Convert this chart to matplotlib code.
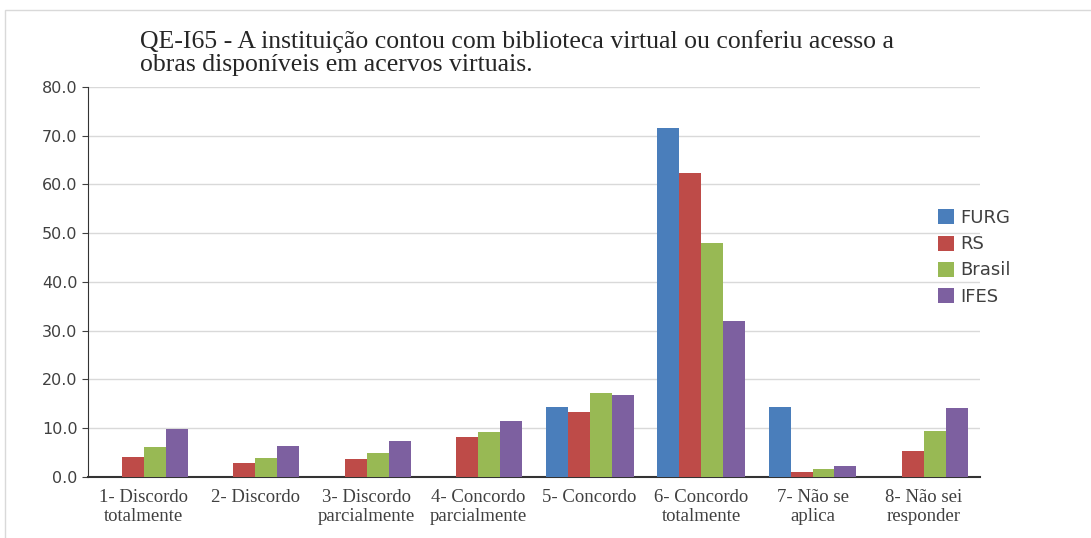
import matplotlib.pyplot as plt
from matplotlib.patches import Rectangle
import numpy as np

categories = ['1- Discordo\ntotalmente', '2- Discordo', '3- Discordo\nparcialmente',
              '4- Concordo\nparcialmente', '5- Concordo', '6- Concordo\ntotalmente',
              '7- Não se\naplica', '8- Não sei\nresponder']
series = ['FURG', 'RS', 'Brasil', 'IFES']
furg = [0.0, 0.0, 0.0, 0.0, 14.4, 71.6, 14.4, 0.0]
rs = [4.0, 2.8, 3.7, 8.3, 13.3, 62.3, 1.0, 5.3]
brasil = [6.2, 3.8, 5.0, 9.3, 17.2, 48.0, 1.6, 9.4]
ifes = [9.9, 6.4, 7.4, 11.5, 16.9, 32.0, 2.3, 14.2]
colors = ['#4A7EBB', '#BE4B48', '#98B954', '#7D60A0']

fig = plt.figure(figsize=(10.91, 5.38), dpi=100)
ax = fig.add_axes([0.0807, 0.1134, 0.8173, 0.725])

# light frame around the chart
fig.patches.append(Rectangle((0.005, -0.1), 1.2, 1.082, transform=fig.transFigure,
                             fill=False, edgecolor='#D9D9D9', linewidth=1.0))

x = np.arange(len(categories))
w = 0.197
for i, (name, vals) in enumerate(zip(series, [furg, rs, brasil, ifes])):
    ax.bar(x + (i - 1.5) * w, vals, width=w, color=colors[i], label=name, zorder=3)

ax.set_xlim(-0.5, len(categories) - 0.5)
ax.set_ylim(0, 80)
ax.set_yticks(np.arange(0, 81, 10))
ax.set_yticklabels(['%.1f' % v for v in np.arange(0, 81, 10)])
ax.yaxis.grid(True, color='#D9D9D9', linewidth=1.0, zorder=0)
ax.set_xticks(x)
ax.set_xticklabels(categories, family='Liberation Serif', fontsize=13.5,
                   color='#404040', linespacing=1.1)
ax.tick_params(axis='x', length=0, pad=9)
ax.tick_params(axis='y', labelsize=11.5, labelcolor='#404040', length=4,
               color='#404040', direction='out')
for s in ['top', 'right']:
    ax.spines[s].set_visible(False)
ax.spines['left'].set_color('#333333')
ax.spines['bottom'].set_color('#333333')
ax.spines['bottom'].set_linewidth(1.5)

fig.text(0.128, 0.945, 'QE-I65 - A instituição contou com biblioteca virtual ou conferiu acesso a\n'
         'obras disponíveis em acervos virtuais.', family='Liberation Serif',
         fontsize=18.5, color='#262626', va='top', ha='left', linespacing=1.1)

ax.legend(loc='center left', bbox_to_anchor=(0.935, 0.563), frameon=False,
          fontsize=13, handlelength=0.9, handleheight=0.9, handletextpad=0.35,
          labelspacing=0.45, labelcolor='#404040')

fig.savefig('out.png', dpi=100)
